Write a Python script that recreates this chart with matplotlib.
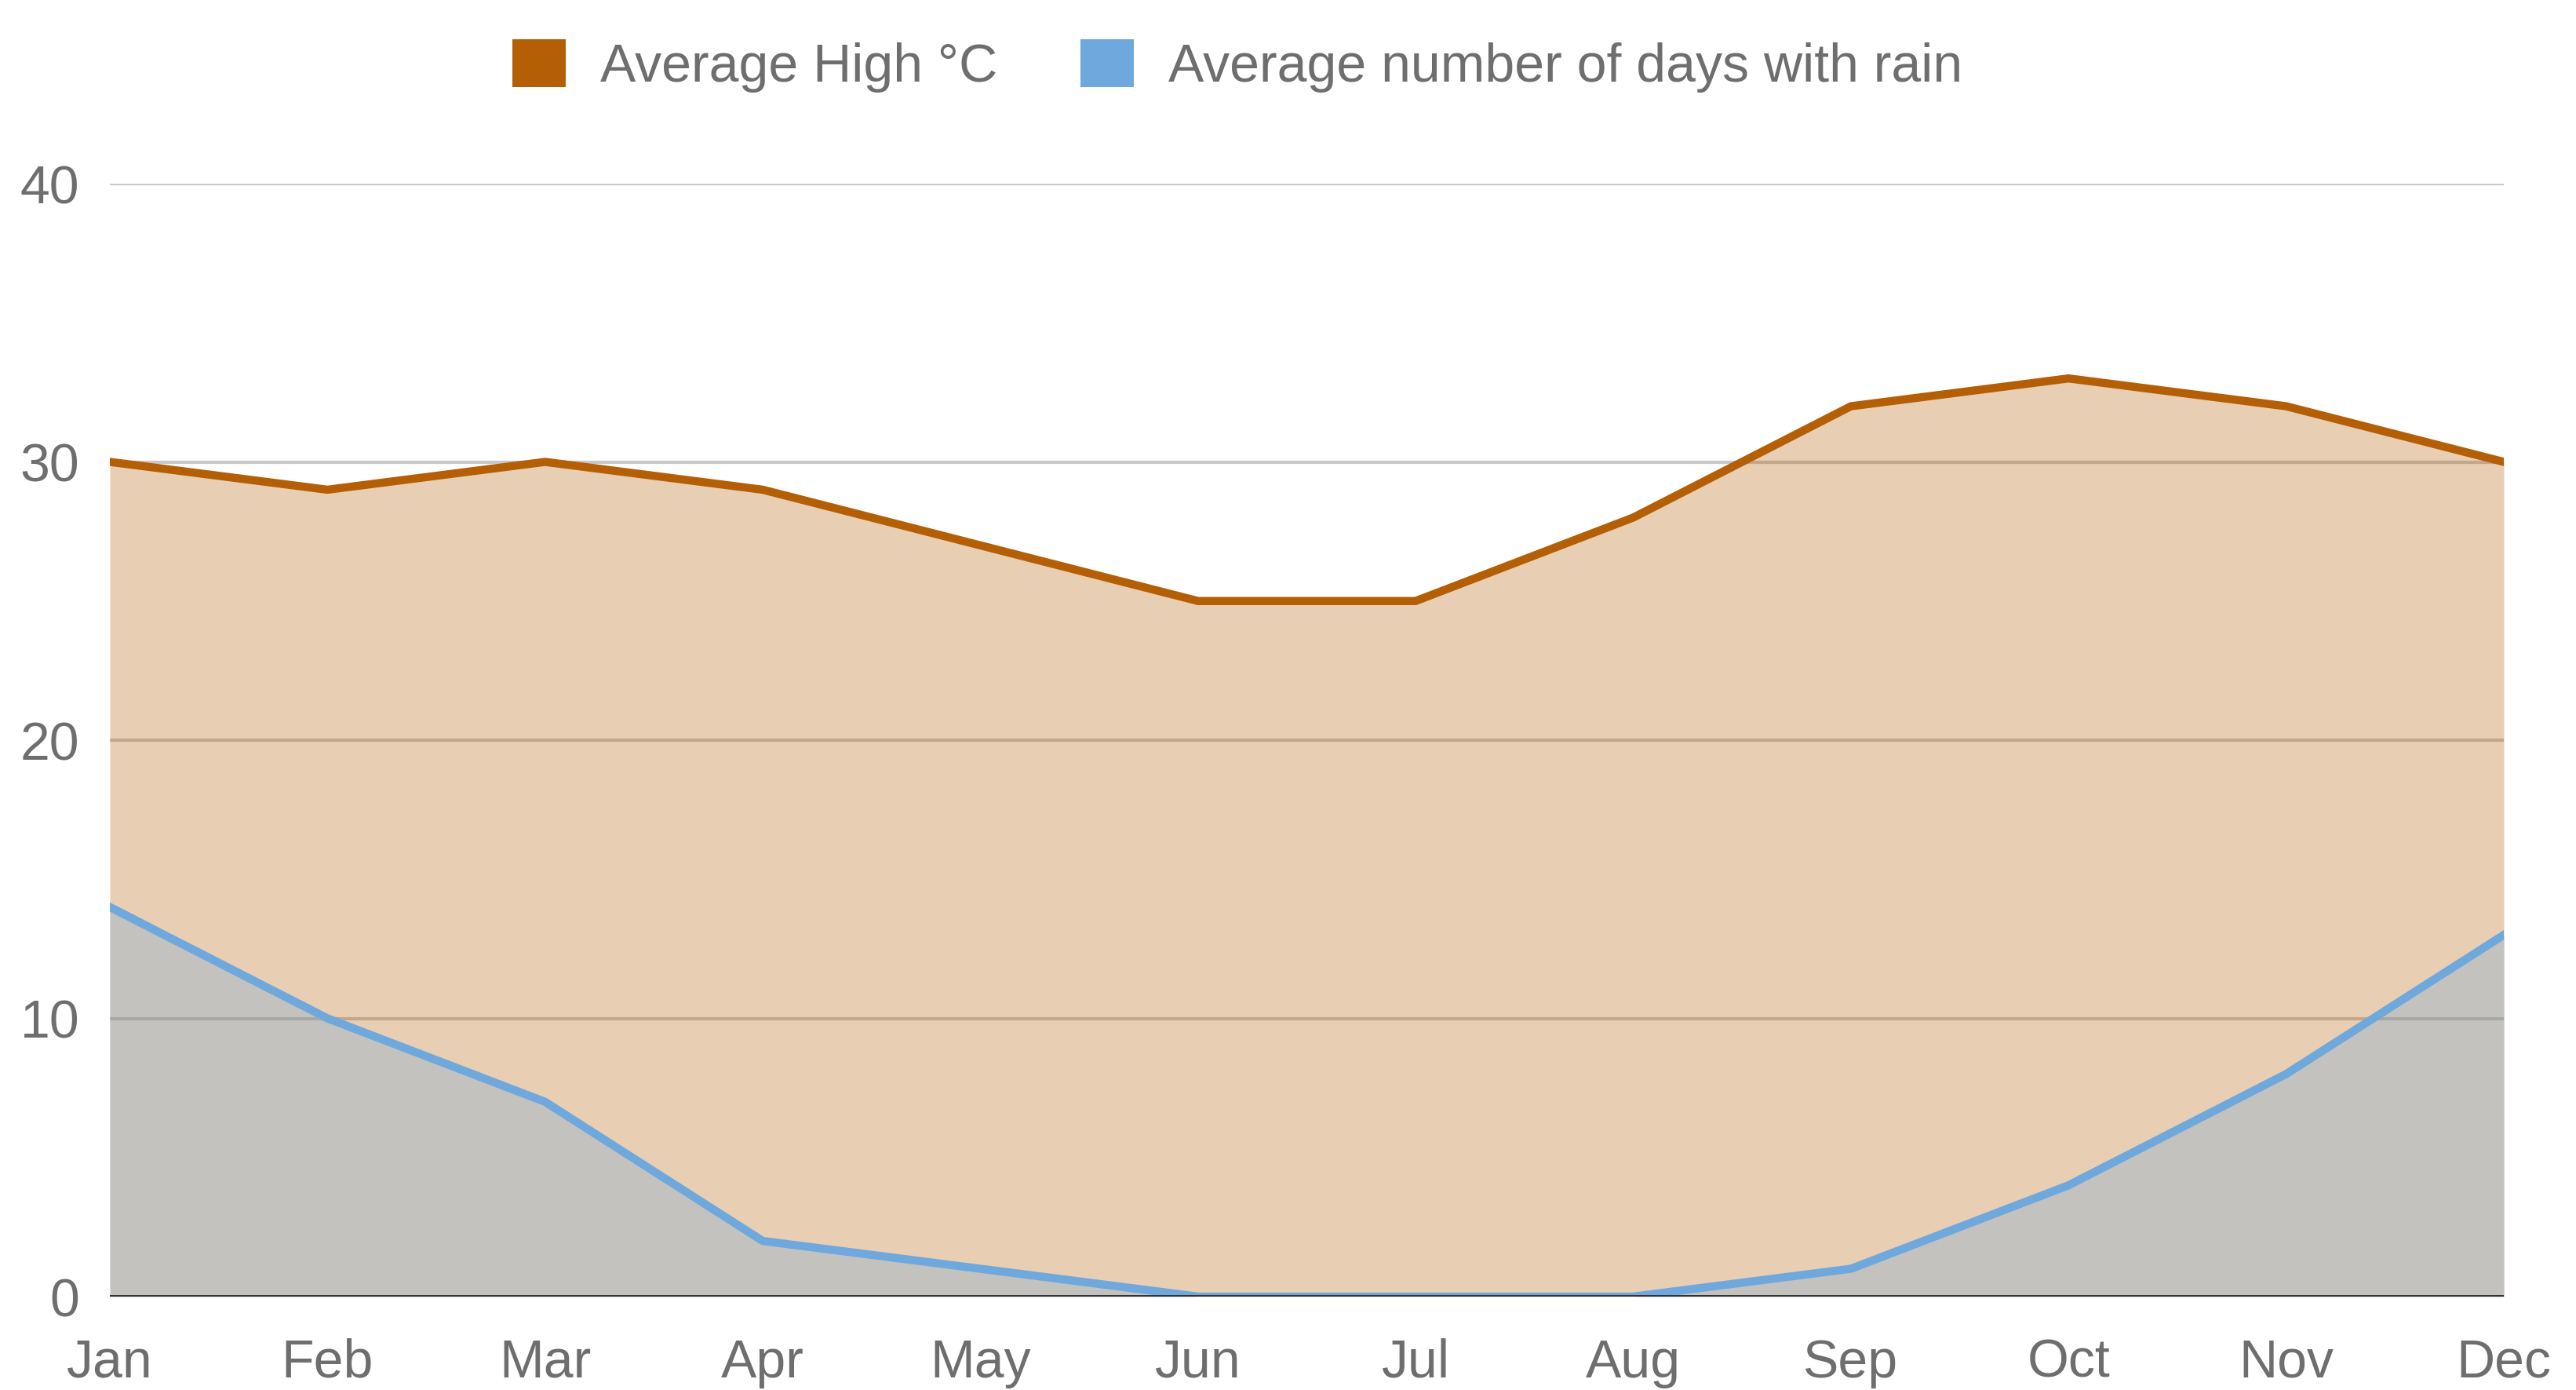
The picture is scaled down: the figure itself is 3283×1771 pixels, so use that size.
import matplotlib
matplotlib.use("Agg")
import matplotlib.pyplot as plt
from matplotlib.patches import Patch

months = ["Jan", "Feb", "Mar", "Apr", "May", "Jun", "Jul", "Aug", "Sep", "Oct", "Nov", "Dec"]
avg_high = [30, 29, 30, 29, 27, 25, 25, 28, 32, 33, 32, 30]
rain_days = [14, 10, 7, 2, 1, 0, 0, 0, 1, 4, 8, 13]
y_ticks = [0, 10, 20, 30, 40]

orange = "#B45F06"
blue = "#6FA8DC"
text_col = "#6E6E6E"

plt.rcParams['font.family'] = ['Liberation Sans', 'DejaVu Sans']

fig = plt.figure(figsize=(32.83, 17.71), dpi=100)
ax = fig.add_axes([140/3283, 1-1652/1771, (3191-140)/3283, (1652-234)/1771])

x = list(range(len(months)))
ax.set_xlim(0, len(months)-1)
ax.set_ylim(0, 40)

for t in y_ticks[1:]:
    ax.axhline(t, color="#C8C8C8", lw=3.0, zorder=0)

ax.fill_between(x, 0, avg_high, color=orange, alpha=0.3, lw=0, zorder=1)
ax.fill_between(x, 0, rain_days, color=blue, alpha=0.3, lw=0, zorder=2)
ax.plot(x, avg_high, color=orange, lw=7.5, zorder=3, solid_joinstyle='miter')
ax.plot(x, rain_days, color=blue, lw=7.5, zorder=3, solid_joinstyle='miter')
ax.axhline(0, color="#333333", lw=3.6, zorder=4)

for s in ax.spines.values():
    s.set_visible(False)
ax.set_xticks(x)
ax.set_xticklabels(months)
ax.set_yticks(y_ticks)
ax.set_yticklabels([str(v) for v in y_ticks])
ax.tick_params(axis='both', length=0, labelsize=49, colors=text_col)
ax.tick_params(axis='x', pad=38)
ax.tick_params(axis='y', pad=28)

handles = [Patch(facecolor=orange, edgecolor='none', label="Average High °C"),
           Patch(facecolor=blue, edgecolor='none', label="Average number of days with rain")]
leg = fig.legend(handles=handles, loc='center', bbox_to_anchor=(1577/3283, 1-84/1771),
                 ncol=2, frameon=False, fontsize=49, handlelength=1.0, handleheight=1.0,
                 handletextpad=0.65, columnspacing=1.55, labelcolor=text_col)

fig.savefig("out.png", dpi=100)
